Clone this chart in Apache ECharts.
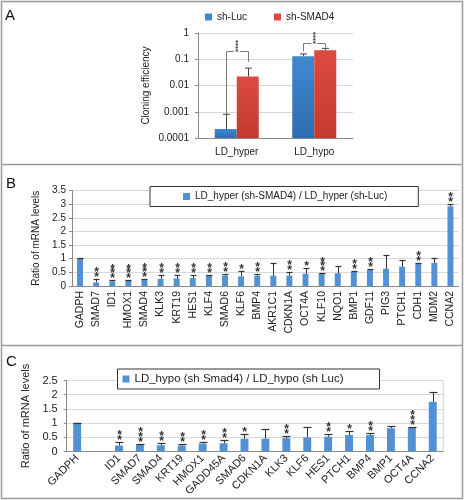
<!DOCTYPE html>
<html><head><meta charset="utf-8">
<script src="https://cdn.jsdelivr.net/npm/echarts@6/dist/echarts.min.js"></script>
<style>html,body{margin:0;padding:0;background:#fff}#c{width:464px;height:500px}</style>
</head><body><div id="c"></div>
<script>
// ---------- Panel A data ----------
const catsA = ['LD_hyper', 'LD_hypo'];
const seriesNamesA = ['sh-Luc', 'sh-SMAD4'];
const lucA = [0.00022, 0.13];
const lucErrA = [0.0008, 0.16];
const smadA = [0.022, 0.22];
const smadErrA = [0.046, 0.26];
const bracketTopA = [0.21, 0.43];
const bracketLeftEndA = [0.0008, 0.2];
const bracketRightEndA = [0.08, 0.28];
const starsA = ['****', '****'];
const yTickValsA = [0.0001, 0.001, 0.01, 0.1, 1];
const yTickLabelsA = ['0.0001', '0.001', '0.01', '0.1', '1'];

// ---------- Panel B data ----------
const catsB = ['GADPH','SMAD7','ID1','HMOX1','SMAD4','KLK3','KRT19','HES1','KLF4','SMAD6','KLF6','BMP4','AKR1C1','CDKN1A','OCT4A','KLF10','NQO1','BMP1','GDF11','PIG3','PTCH1','CDH1','MDM2','CCNA2'];
const valB  = [1.0, 0.13, 0.17, 0.19, 0.24, 0.26, 0.28, 0.29, 0.40, 0.38, 0.35, 0.37, 0.38, 0.38, 0.45, 0.47, 0.47, 0.52, 0.59, 0.63, 0.71, 0.82, 0.85, 2.92];
const errB  = [1.02, 0.26, 0.22, 0.21, 0.25, 0.39, 0.41, 0.41, 0.42, 0.44, 0.56, 0.44, 0.83, 0.50, 0.67, 0.48, 0.74, 0.55, 0.62, 1.13, 0.96, 0.84, 1.02, 3.0];
const starsB = ['', '**', '***', '***', '***', '**', '**', '**', '**', '**', '*', '**', '', '**', '*', '***', '', '**', '**', '', '', '**', '', '**'];
const nameB = 'LD_hyper (sh-SMAD4) / LD_hyper (sh-Luc)';
const yTicksB = ['0', '0.5', '1', '1.5', '2', '2.5', '3', '3.5'];

// ---------- Panel C data ----------
const catsC = ['GADPH','','ID1','SMAD7','SMAD4','KRT19','HMOX1','GADD45A','SMAD6','CDKN1A','KLK3','KLF6','HES1','PTCH1','BMP4','BMP1','OCT4A','CCNA2'];
const valC  = [1.01, null, 0.21, 0.25, 0.22, 0.21, 0.27, 0.29, 0.45, 0.45, 0.47, 0.50, 0.52, 0.58, 0.58, 0.82, 0.84, 1.75];
const errC  = [1.02, null, 0.33, 0.27, 0.29, 0.28, 0.32, 0.39, 0.60, 0.78, 0.54, 0.85, 0.63, 0.73, 0.66, 0.90, 0.86, 2.11];
const starsC = ['', '', '**', '***', '**', '**', '**', '**', '*', '', '**', '', '**', '*', '**', '', '***', ''];
const nameC = 'LD_hypo (sh Smad4) / LD_hypo (sh Luc)';
const yTicksC = ['0', '0.5', '1', '1.5', '2', '2.5'];

// ---------- styling ----------
const FONT = '"Liberation Sans", Arial, sans-serif';
const TXT = '#222';
const AX = '#8a8a8a';
const GRID = '#d9d9d9';
const BLUE_A = '#3f89d1', BLUE_A2 = '#2d6db4';
const RED_A = '#dc4b42', RED_A2 = '#c33a31';
const BLUE = '#5291d4';

const chart = echarts.init(document.getElementById('c'));

function barsA(side, vals, name, c1, c2) {
  return {
    type: 'custom', name: name, xAxisIndex: 0, yAxisIndex: 0, z: 2,
    itemStyle: { color: c1 },
    data: vals.map((v, i) => [i, v]),
    renderItem: function (params, api) {
      const i = api.value(0), v = api.value(1);
      const cw = api.size([1, 1])[0];
      const bw = cw * 0.284;
      const top = api.coord([i, v]);
      const base = api.coord([i, yTickValsA[0]]);
      return {
        type: 'rect',
        shape: { x: side < 0 ? top[0] - bw : top[0], y: top[1], width: bw, height: base[1] - top[1] },
        style: { fill: new echarts.graphic.LinearGradient(0, 0, 0, 1, [{ offset: 0, color: c1 }, { offset: 1, color: c2 }]) }
      };
    }
  };
}

function errA(side, vals, errs) {
  return {
    type: 'custom', xAxisIndex: 0, yAxisIndex: 0, z: 3, silent: true,
    data: vals.map((v, i) => [i, v, errs[i]]),
    renderItem: function (params, api) {
      const i = api.value(0);
      const cw = api.size([1, 1])[0];
      const off = cw * 0.142 * side;
      const p0 = api.coord([i, api.value(1)]), p1 = api.coord([i, api.value(2)]);
      const x = Math.round(p0[0] + off) + 0.5;
      return { type: 'group', children: [
        { type: 'line', shape: { x1: x, y1: p0[1], x2: x, y2: p1[1] }, style: { stroke: '#444', lineWidth: 1 } },
        { type: 'line', shape: { x1: x - 3.5, y1: p1[1], x2: x + 3.5, y2: p1[1] }, style: { stroke: '#444', lineWidth: 1 } }
      ] };
    }
  };
}

const bracketSeries = {
  type: 'custom', xAxisIndex: 0, yAxisIndex: 0, z: 4, silent: true,
  data: bracketTopA.map((t, i) => [i, t, bracketLeftEndA[i], bracketRightEndA[i]]),
  renderItem: function (params, api) {
    const i = api.value(0);
    const cw = api.size([1, 1])[0];
    const off = cw * 0.142;
    const pt = api.coord([i, api.value(1)]);
    const cx = pt[0], yT = Math.round(pt[1]) + 0.5;
    const xL = Math.round(cx - off) + 0.5, xR = Math.round(cx + off) + 0.5;
    const yL = api.coord([i, api.value(2)])[1];
    const yR = api.coord([i, api.value(3)])[1];
    const st = { stroke: '#7a7a7a', lineWidth: 1 };
    return { type: 'group', children: [
      { type: 'line', shape: { x1: xL, y1: yL, x2: xL, y2: yT }, style: st },
      { type: 'line', shape: { x1: xL, y1: yT, x2: cx - 3, y2: yT }, style: st },
      { type: 'line', shape: { x1: cx + 3, y1: yT, x2: xR, y2: yT }, style: st },
      { type: 'line', shape: { x1: xR, y1: yT, x2: xR, y2: yR }, style: st },
      { type: 'text', x: cx, y: yT + 1.5, style: { text: starsA[i].split('').join('\n'), fontSize: 8, fontWeight: 'bold', lineHeight: 2.8, fontFamily: FONT, fill: '#333', align: 'center', verticalAlign: 'bottom' } }
    ] };
  }
};

function errSeries(ax, vals, errs, stars, capHalf, sFont, sLH) {
  const data = [];
  vals.forEach((v, i) => { if (v != null) data.push([i, v, errs[i]]); });
  return {
    type: 'custom', xAxisIndex: ax, yAxisIndex: ax, z: 3, silent: true,
    data: data,
    renderItem: function (params, api) {
      const i = api.value(0);
      const p0 = api.coord([i, api.value(1)]), p1 = api.coord([i, api.value(2)]);
      const x = Math.round(p0[0]) + 0.5;
      const y1 = Math.round(p1[1]) + 0.5;
      const ch = [
        { type: 'line', shape: { x1: x, y1: p0[1], x2: x, y2: y1 }, style: { stroke: '#333', lineWidth: 1 } },
        { type: 'line', shape: { x1: x - capHalf, y1: y1, x2: x + capHalf, y2: y1 }, style: { stroke: '#333', lineWidth: 1.2 } }
      ];
      const s = stars[i];
      if (s) ch.push({ type: 'text', x: x, y: y1 + 0.5, style: { text: s.split('').join('\n'), fontSize: sFont, fontWeight: 'bold', lineHeight: sLH, fontFamily: FONT, fill: '#333', align: 'center', verticalAlign: 'bottom' } });
      return { type: 'group', children: ch };
    }
  };
}

function valueAxis(grid, max, labels, margin, name, nameGap, fs) {
  return {
    type: 'value', gridIndex: grid, min: 0, max: max, interval: 0.5,
    axisLine: { show: true, lineStyle: { color: AX } },
    axisTick: { show: true, length: 3, lineStyle: { color: AX } },
    splitLine: { lineStyle: { color: GRID } },
    axisLabel: { fontSize: fs, color: TXT, fontFamily: FONT, margin: margin, formatter: (v) => labels[Math.round(v / 0.5)] },
    name: name, nameLocation: 'middle', nameGap: nameGap,
    nameTextStyle: { fontSize: fs, color: TXT, fontFamily: FONT }
  };
}

const option = {
  animation: false,
  backgroundColor: '#fff',
  textStyle: { fontFamily: FONT },
  grid: [
    { left: 198, top: 33, width: 155, height: 105 },
    { left: 72, top: 190.5, width: 386.5, height: 95.5 },
    { left: 66.7, top: 380.5, width: 376.5, height: 71, show: true, borderColor: '#cfcfcf', borderWidth: 1 }
  ],
  legend: [
    { data: seriesNamesA, left: 200, top: 7, itemWidth: 7, itemHeight: 7, itemGap: 27, icon: 'rect',
      textStyle: { fontSize: 10, color: TXT, fontFamily: FONT } },
    { data: [nameB], left: 150, top: 186.5, itemWidth: 7, itemHeight: 7, icon: 'rect', padding: [5, 31, 5, 33],
      backgroundColor: '#fff', borderColor: '#333', borderWidth: 1,
      textStyle: { fontSize: 10, color: TXT, fontFamily: FONT } },
    { data: [nameC], left: 117.5, top: 369, itemWidth: 7, itemHeight: 7, icon: 'rect', padding: [4, 36, 4, 5],
      backgroundColor: '#fff', borderColor: '#333', borderWidth: 1,
      textStyle: { fontSize: 11.5, color: TXT, fontFamily: FONT } }
  ],
  xAxis: [
    { type: 'category', gridIndex: 0, data: catsA,
      axisLine: { lineStyle: { color: AX } }, axisTick: { length: 4, lineStyle: { color: AX } },
      axisLabel: { fontSize: 10, color: TXT, fontFamily: FONT, margin: 9 } },
    { type: 'category', gridIndex: 1, data: catsB,
      axisLine: { lineStyle: { color: AX } }, axisTick: { length: 4, lineStyle: { color: AX } },
      axisLabel: { fontSize: 10.5, color: TXT, fontFamily: FONT, rotate: 90, interval: 0, margin: 5 } },
    { type: 'category', gridIndex: 2, data: catsC,
      axisLine: { lineStyle: { color: AX } }, axisTick: { length: 4, lineStyle: { color: AX } },
      axisLabel: { fontSize: 11, color: TXT, fontFamily: FONT, rotate: 45, interval: 0, margin: 5 } }
  ],
  yAxis: [
    { type: 'log', gridIndex: 0, logBase: 10, min: yTickValsA[0], max: yTickValsA[yTickValsA.length - 1],
      axisLine: { show: true, lineStyle: { color: AX } },
      axisTick: { show: true, length: 3, lineStyle: { color: AX } },
      splitLine: { lineStyle: { color: GRID } },
      axisLabel: { fontSize: 10, color: TXT, fontFamily: FONT, margin: 9,
        formatter: (v) => yTickLabelsA[Math.round(Math.log10(v)) + 4] },
      name: 'Cloning efficiency', nameLocation: 'middle', nameGap: 47,
      nameTextStyle: { fontSize: 10, color: TXT, fontFamily: FONT } },
    valueAxis(1, 3.5, yTicksB, 6, 'Ratio of mRNA levels', 29, 10),
    valueAxis(2, 2.5, yTicksC, 9, 'Ratio of mRNA levels', 31, 11)
  ],
  series: [
    barsA(-1, lucA, seriesNamesA[0], BLUE_A, BLUE_A2),
    barsA(1, smadA, seriesNamesA[1], RED_A, RED_A2),
    errA(-1, lucA, lucErrA),
    errA(1, smadA, smadErrA),
    bracketSeries,
    { type: 'bar', name: nameB, xAxisIndex: 1, yAxisIndex: 1, data: valB, barWidth: '37%', itemStyle: { color: BLUE } },
    errSeries(1, valB, errB, starsB, 3, 12, 4.6),
    { type: 'bar', name: nameC, xAxisIndex: 2, yAxisIndex: 2, data: valC, barWidth: '38%', itemStyle: { color: BLUE } },
    errSeries(2, valC, errC, starsC, 4, 12, 5)
  ],
  graphic: [
    { type: 'rect', shape: { x: 1.5, y: 1.5, width: 461, height: 497 }, style: { fill: 'none', stroke: '#9a9a9a', lineWidth: 1.5 }, z: 100 },
    { type: 'line', shape: { x1: 1.5, y1: 164.5, x2: 462.5, y2: 164.5 }, style: { stroke: '#9a9a9a', lineWidth: 1.5 }, z: 100 },
    { type: 'line', shape: { x1: 1.5, y1: 345.5, x2: 462.5, y2: 345.5 }, style: { stroke: '#9a9a9a', lineWidth: 1.5 }, z: 100 },
    { type: 'text', left: 5, top: 8, style: { text: 'A', fontSize: 15, fontFamily: FONT, fill: '#111' } },
    { type: 'text', left: 6, top: 176, style: { text: 'B', fontSize: 15, fontFamily: FONT, fill: '#111' } },
    { type: 'text', left: 6, top: 354, style: { text: 'C', fontSize: 15, fontFamily: FONT, fill: '#111' } }
  ]
};
chart.setOption(option);
</script>
</body></html>
